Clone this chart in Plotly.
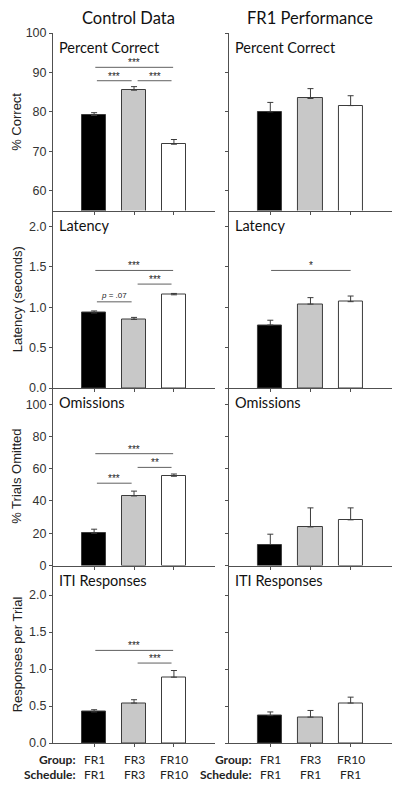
import plotly.graph_objects as go

# ---------------- data ----------------
groups = ["FR1", "FR3", "FR10"]
control_schedule = ["FR1", "FR3", "FR10"]
fr1_schedule = ["FR1", "FR1", "FR1"]

ctrl_pc = [79.1, 85.5, 71.8]
ctrl_pc_err = [0.7, 0.9, 1.2]
fr1_pc = [80.0, 83.4, 81.6]
fr1_pc_err = [2.4, 2.5, 2.5]

ctrl_lat = [0.93, 0.85, 1.155]
ctrl_lat_err = [0.025, 0.025, 0.017]
fr1_lat = [0.78, 1.04, 1.07]
fr1_lat_err = [0.06, 0.08, 0.07]

ctrl_om = [20.0, 43.1, 55.3]
ctrl_om_err = [2.5, 3.0, 1.4]
fr1_om = [13.0, 23.9, 28.3]
fr1_om_err = [6.4, 11.8, 7.4]

ctrl_iti = [0.42, 0.54, 0.89]
ctrl_iti_err = [0.03, 0.045, 0.09]
fr1_iti = [0.37, 0.35, 0.54]
fr1_iti_err = [0.05, 0.09, 0.08]

column_titles = ["Control Data", "FR1 Performance"]
panel_titles = ["Percent Correct", "Latency", "Omissions", "ITI Responses"]
y_titles = ["% Correct", "Latency (seconds)", "% Trials Omitted", "Responses per Trial"]
y_ranges = [[55, 100], [0, 2.2], [0, 110], [0, 2.4]]
y_ticks = [[60, 70, 80, 90, 100], [0, 0.5, 1.0, 1.5, 2.0],
           [0, 20, 40, 60, 80, 100], [0, 0.5, 1.0, 1.5, 2.0]]
y_fmt = ["d", ".1f", "d", ".1f"]

# significance comparisons: (row, col, x0, x1, y, label)
sig = [
    (0, 0, 0.03, 1.98, 91.3, "***"),
    (0, 0, 0.07, 0.94, 87.9, "***"),
    (0, 0, 1.09, 1.94, 87.9, "***"),
    (1, 0, 0.03, 1.98, 1.457, "***"),
    (1, 0, 1.09, 1.94, 1.288, "***"),
    (1, 0, 0.07, 0.94, 1.068, "<i>p</i> = .07"),
    (1, 1, 0.02, 2.0, 1.457, "*"),
    (2, 0, 0.03, 1.98, 69.3, "***"),
    (2, 0, 1.09, 1.94, 60.8, "**"),
    (2, 0, 0.07, 0.94, 51.0, "***"),
    (3, 0, 0.03, 1.98, 1.252, "***"),
    (3, 0, 1.09, 1.94, 1.081, "***"),
]

values = [
    [(ctrl_pc, ctrl_pc_err), (fr1_pc, fr1_pc_err)],
    [(ctrl_lat, ctrl_lat_err), (fr1_lat, fr1_lat_err)],
    [(ctrl_om, ctrl_om_err), (fr1_om, fr1_om_err)],
    [(ctrl_iti, ctrl_iti_err), (fr1_iti, fr1_iti_err)],
]

bar_colors = ["#000000", "#c8c8c8", "#ffffff"]
edge = "#3c3c3c"
axis_col = "#505050"
sig_col = "#606060"
TXT = "Lato"
NUM = "Liberation Sans"

col_domains = [[0.0, 0.478], [0.519, 1.0]]
row_domains = [[0.75, 1.0], [0.5, 0.75], [0.25, 0.5], [0.0, 0.25]]
xs = [0, 1, 2]

fig = go.Figure()
layout = {}
annotations = []
shapes = []

for r in range(4):
    for c in range(2):
        idx = r * 2 + c + 1
        xa = "x" if idx == 1 else f"x{idx}"
        ya = "y" if idx == 1 else f"y{idx}"
        vals, errs = values[r][c]
        fig.add_trace(go.Bar(
            x=xs, y=vals, width=0.6,
            marker=dict(color=bar_colors, line=dict(color=edge, width=1)),
            error_y=dict(type="data", array=errs, arrayminus=[0, 0, 0],
                         color=edge, thickness=1, width=3),
            xaxis=xa, yaxis=ya, showlegend=False, hoverinfo="skip",
        ))
        xkey = "xaxis" if idx == 1 else f"xaxis{idx}"
        ykey = "yaxis" if idx == 1 else f"yaxis{idx}"
        layout[xkey] = dict(
            domain=col_domains[c], anchor=ya, range=[-1.03, 3.03],
            showline=True, linecolor=axis_col, linewidth=1,
            ticks="outside", ticklen=3, tickcolor=axis_col,
            tickvals=xs, showticklabels=False, showgrid=False, zeroline=False,
            fixedrange=True,
        )
        layout[ykey] = dict(
            domain=row_domains[r], anchor=xa, range=y_ranges[r],
            showline=True, linecolor=axis_col, linewidth=1,
            ticks="outside", ticklen=3, tickcolor=axis_col,
            tickvals=y_ticks[r], tickformat=y_fmt[r],
            showticklabels=(c == 0), showgrid=False, zeroline=False,
            tickfont=dict(family=NUM, size=12.5, color="#333333"),
            fixedrange=True,
        )
        # panel subtitle
        annotations.append(dict(
            text=panel_titles[r], xref=f"{xa} domain", yref=f"{ya} domain",
            x=0.025, y=1.0, xanchor="left", yanchor="top", yshift=-4,
            showarrow=False, font=dict(family=TXT, size=14.5, color="#111111"),
        ))

    # y-axis title
    annotations.append(dict(
        text=y_titles[r], xref="paper", yref="paper",
        x=-0.106, y=(row_domains[r][0] + row_domains[r][1]) / 2,
        xanchor="center", yanchor="middle", textangle=-90, showarrow=False,
        font=dict(family=NUM, size=13, color="#222222"),
    ))

for (r, c, x0, x1, yv, lab) in sig:
    idx = r * 2 + c + 1
    xa = "x" if idx == 1 else f"x{idx}"
    ya = "y" if idx == 1 else f"y{idx}"
    shapes.append(dict(type="line", xref=xa, yref=ya, x0=x0, x1=x1, y0=yv, y1=yv,
                       line=dict(color=sig_col, width=1)))
    small = lab.startswith("<i>")
    annotations.append(dict(
        text=lab, xref=xa, yref=ya, x=(x0 + x1) / 2, y=yv,
        xanchor="center", yanchor="bottom", yshift=(0 if small else -3),
        showarrow=False,
        font=dict(family=NUM, size=(8 if small else 10), color="#222222"),
    ))

# column titles
for c in range(2):
    annotations.append(dict(
        text=column_titles[c], xref="paper", yref="paper",
        x=(col_domains[c][0] + col_domains[c][1]) / 2 - (0.015 if c == 0 else 0.0),
        y=1.0, yshift=15, xanchor="center", yanchor="middle", showarrow=False,
        font=dict(family=TXT, size=16.5, color="#111111"),
    ))

# bottom labels
sched = [control_schedule, fr1_schedule]
for c in range(2):
    xa = "x7" if c == 0 else "x8"
    annotations.append(dict(text="<b>Group:</b>", xref=xa, yref="paper", x=-0.4, y=0,
                            yshift=-16, xanchor="right", yanchor="middle", showarrow=False,
                            font=dict(family=TXT, size=12, color="#222222")))
    annotations.append(dict(text="<b>Schedule:</b>", xref=xa, yref="paper", x=-0.4, y=0,
                            yshift=-31, xanchor="right", yanchor="middle", showarrow=False,
                            font=dict(family=TXT, size=12, color="#222222")))
    for i in range(3):
        annotations.append(dict(text=groups[i], xref=xa, yref="paper", x=xs[i], y=0,
                                yshift=-16, xanchor="center", yanchor="middle", showarrow=False,
                                font=dict(family=TXT, size=12, color="#222222")))
        annotations.append(dict(text=sched[c][i], xref=xa, yref="paper", x=xs[i], y=0,
                                yshift=-31, xanchor="center", yanchor="middle", showarrow=False,
                                font=dict(family=TXT, size=12, color="#222222")))

# page body has an 8px default margin, so the figure is sized/offset to fit the 400x787 window
fig.update_layout(
    **layout,
    width=392, height=779,
    margin=dict(l=45, r=8, t=25, b=44),
    paper_bgcolor="white", plot_bgcolor="white",
    annotations=annotations, shapes=shapes,
    bargap=0, showlegend=False,
)

fig.write_html("out.html", config={"displayModeBar": False})
